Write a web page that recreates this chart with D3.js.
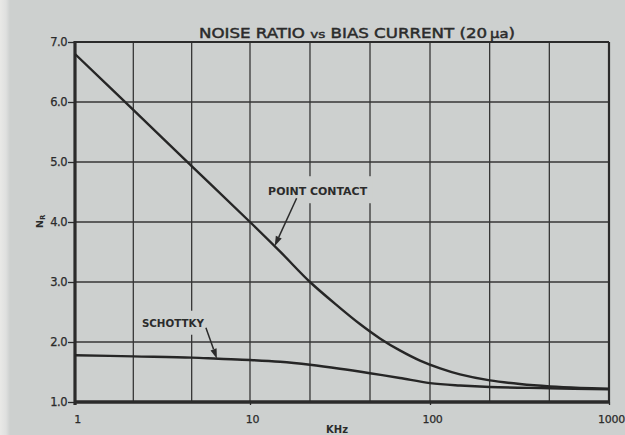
<!DOCTYPE html>
<html>
<head>
<meta charset="utf-8">
<script src="https://cdn.jsdelivr.net/npm/d3@7"></script>
<style>
  html, body { margin: 0; padding: 0; background: #cdd0cf; }
  svg { display: block; }
  text { font-family: "DejaVu Sans", "Liberation Sans", sans-serif; fill: #2b2b2b; }
</style>
</head>
<body>
<svg id="chart" width="625" height="435"></svg>
<script>
// Frequency in kHz (log axis) and noise ratio N_R
const pointContactFreq = [1, 2.154, 4.642, 10, 15, 21.54, 31.6, 40.8, 52.7, 68, 88, 114, 147, 216, 318, 468, 690, 1000];
const pointContactNR   = [6.8, 5.87, 4.93, 4.0, 3.48, 3.0, 2.57, 2.30, 2.06, 1.86, 1.69, 1.56, 1.46, 1.36, 1.30, 1.26, 1.235, 1.22];

const schottkyFreq = [1, 2.154, 4.642, 6.6, 10, 14.7, 21.54, 31.6, 46.4, 68, 100, 147, 216, 468, 1000];
const schottkyNR   = [1.78, 1.76, 1.74, 1.72, 1.70, 1.67, 1.62, 1.555, 1.48, 1.40, 1.315, 1.275, 1.25, 1.23, 1.21];

// Axis ticks and grid
const xTickLabels = [1, 10, 100, 1000];
const xGridFreq = [2.154, 4.642, 10, 21.54, 46.42, 100, 215.4, 464.2];
const yTickValues = [1, 2, 3, 4, 5, 6, 7];

// Curve annotations: label text and the frequency the arrow points at
const annotationLabels = ["POINT CONTACT", "SCHOTTKY"];
const annotationFreq = [13.7, 6.47];

const svg = d3.select("#chart");
const bg = "#cdd0cf";
const ink = "#2b2b2b";

// light edge along the left side of the sheet
const defs = svg.append("defs");
const grad = defs.append("linearGradient").attr("id", "edge").attr("x1", 0).attr("x2", 1);
grad.append("stop").attr("offset", 0).attr("stop-color", "#e9e9e7");
grad.append("stop").attr("offset", 0.6).attr("stop-color", "#dfe0df");
grad.append("stop").attr("offset", 1).attr("stop-color", bg);
svg.append("rect").attr("width", 625).attr("height", 435).attr("fill", bg);
svg.append("rect").attr("x", 0).attr("y", 0).attr("width", 10).attr("height", 435).attr("fill", "url(#edge)");

const x = d3.scaleLog().domain([1, 10, 100, 1000]).range([75, 250, 430, 609]);
const y = d3.scaleLinear().domain([1, 7]).range([402, 42]);

// grid
const grid = svg.append("g").attr("stroke", "#363636").attr("stroke-width", 1.3);
grid.selectAll("line.v").data(xGridFreq).join("line")
  .attr("x1", d => x(d)).attr("x2", d => x(d))
  .attr("y1", y(7)).attr("y2", y(1));
grid.selectAll("line.h").data(yTickValues.slice(1, -1)).join("line")
  .attr("x1", x(1)).attr("x2", x(1000))
  .attr("y1", d => y(d)).attr("y2", d => y(d));

// frame: lighter top/right, heavy left/bottom axes
svg.append("line").attr("x1", x(1)).attr("x2", x(1000)).attr("y1", y(7)).attr("y2", y(7))
  .attr("stroke", ink).attr("stroke-width", 2);
svg.append("line").attr("x1", x(1000)).attr("x2", x(1000)).attr("y1", y(7)).attr("y2", y(1))
  .attr("stroke", ink).attr("stroke-width", 2.2);

const line = d3.line().x(d => x(d[0])).y(d => y(d[1])).curve(d3.curveCatmullRom.alpha(0.5));

function nrAt(freqs, vals, f) {
  const lf = Math.log10(f);
  for (let i = 0; i < freqs.length - 1; i++) {
    const a = Math.log10(freqs[i]), b = Math.log10(freqs[i + 1]);
    if (lf >= a && lf <= b) return vals[i] + (vals[i + 1] - vals[i]) * (lf - a) / (b - a);
  }
  return vals[vals.length - 1];
}

const tipPC = [annotationFreq[0], nrAt(pointContactFreq, pointContactNR, annotationFreq[0])];
const tipSc = [annotationFreq[1], nrAt(schottkyFreq, schottkyNR, annotationFreq[1])];

const pcTipX = x(tipPC[0]), pcTipY = y(tipPC[1]);
const scTipX = x(tipSc[0]), scTipY = y(tipSc[1]);

// label halos interrupt the grid behind the annotation text
svg.append("rect").attr("x", pcTipX - 12).attr("y", pcTipY - 70).attr("width", 110).attr("height", 27).attr("fill", bg);
svg.append("rect").attr("x", scTipX - 80).attr("y", scTipY - 48).attr("width", 72).attr("height", 24).attr("fill", bg);

// axes
const yAxis = d3.axisLeft(y).tickValues(yTickValues).tickFormat(d3.format(".1f")).tickSize(7).tickPadding(1);
const gy = svg.append("g").attr("transform", `translate(${x(1)},0)`).call(yAxis);
gy.select(".domain").remove();
gy.selectAll(".tick line").attr("stroke", ink).attr("stroke-width", 1.3);
gy.selectAll(".tick text").attr("font-size", 11.5).attr("fill", ink).attr("font-family", "DejaVu Sans")
  .attr("letter-spacing", -0.5).attr("stroke", ink).attr("stroke-width", 0.25);

const xAxis = d3.axisBottom(x).tickValues(xTickLabels).tickFormat(d3.format("d")).tickSize(3).tickPadding(10);
const gx = svg.append("g").attr("transform", `translate(0,${y(1)})`).call(xAxis);
gx.select(".domain").remove();
gx.selectAll(".tick line").attr("stroke", ink).attr("stroke-width", 1.3);
gx.selectAll(".tick text").attr("font-size", 11).attr("fill", ink).attr("font-family", "DejaVu Sans")
  .attr("dx", 2).attr("letter-spacing", -0.3).attr("stroke", ink).attr("stroke-width", 0.25);

svg.append("line").attr("x1", x(1)).attr("x2", x(1)).attr("y1", y(7) - 1).attr("y2", y(1) + 3)
  .attr("stroke", ink).attr("stroke-width", 3.2);
svg.append("line").attr("x1", x(1) - 1).attr("x2", x(1000) + 1).attr("y1", y(1)).attr("y2", y(1))
  .attr("stroke", ink).attr("stroke-width", 3.4);

// curves
const pcData = pointContactFreq.map((f, i) => [f, pointContactNR[i]]);
const scData = schottkyFreq.map((f, i) => [f, schottkyNR[i]]);
svg.append("path").datum(pcData).attr("d", line).attr("fill", "none")
  .attr("stroke", "#262626").attr("stroke-width", 2.4).attr("stroke-linejoin", "round");
svg.append("path").datum(scData).attr("d", line).attr("fill", "none")
  .attr("stroke", "#262626").attr("stroke-width", 2.4).attr("stroke-linejoin", "round");

// arrows
function arrow(x0, y0, x1, y1) {
  const ang = Math.atan2(y1 - y0, x1 - x0);
  const L = 10, W = 3.2;
  const bx = x1 - L * Math.cos(ang), by = y1 - L * Math.sin(ang);
  svg.append("line").attr("x1", x0).attr("y1", y0).attr("x2", bx).attr("y2", by)
    .attr("stroke", ink).attr("stroke-width", 1.5);
  const px = -Math.sin(ang) * W, py = Math.cos(ang) * W;
  svg.append("path").attr("d", `M${x1},${y1}L${bx + px},${by + py}L${bx - px},${by - py}Z`).attr("fill", ink);
}
arrow(pcTipX + 22, pcTipY - 48, pcTipX, pcTipY);
arrow(scTipX - 11, scTipY - 31, scTipX, scTipY);

// labels
svg.append("text").attr("x", pcTipX - 6.5).attr("y", pcTipY - 51.5)
  .attr("font-size", 10.5).attr("font-weight", "bold").attr("textLength", 99).attr("lengthAdjust", "spacingAndGlyphs")
  .text(annotationLabels[0]);
svg.append("text").attr("x", scTipX - 75).attr("y", scTipY - 31.5)
  .attr("font-size", 10).attr("font-weight", "bold").attr("textLength", 62).attr("lengthAdjust", "spacingAndGlyphs")
  .text(annotationLabels[1]);

// title
const title = svg.append("text").attr("x", 199).attr("y", 37.5).attr("font-size", 13.5)
  .attr("textLength", 316).attr("lengthAdjust", "spacingAndGlyphs")
  .attr("stroke", ink).attr("stroke-width", 0.45);
title.append("tspan").text("NOISE RATIO ");
title.append("tspan").attr("font-size", 11).text("vs");
title.append("tspan").text(" BIAS CURRENT (20");
title.append("tspan").attr("font-size", 12).text("\u2009μa");
title.append("tspan").text(")");

// axis titles
svg.append("text").attr("x", 337).attr("y", 433).attr("text-anchor", "middle")
  .attr("font-size", 10).attr("font-weight", "bold").text("KHz");
const yl = svg.append("text").attr("transform", "translate(43,228) rotate(-90)").attr("font-size", 9.5).attr("font-weight", "bold");
yl.append("tspan").text("N");
yl.append("tspan").attr("font-size", 7).attr("dy", 2).text("R");
</script>
</body>
</html>
